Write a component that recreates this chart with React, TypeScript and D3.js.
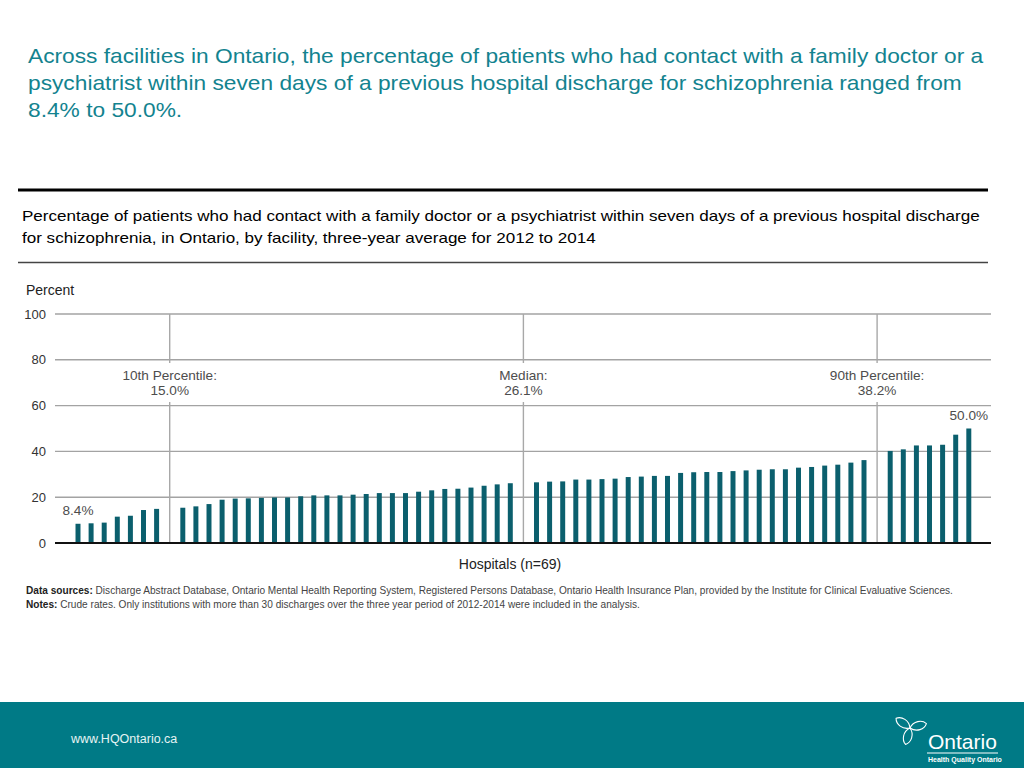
import React from "react";
import * as d3 from "d3";

const titleLines = [
  "Across facilities in Ontario, the percentage of patients who had contact with a family doctor or a",
  "psychiatrist within seven days of a previous hospital discharge for schizophrenia ranged from",
  "8.4% to 50.0%.",
];
const subtitleLines = [
  "Percentage of patients who had contact with a family doctor or a psychiatrist within seven days of a previous hospital discharge",
  "for schizophrenia, in Ontario, by facility, three-year average for 2012 to 2014",
];
const values = [
  8.4, 8.6, 8.9, 11.5, 11.9, 14.4, 14.9,
  15.4, 16.0, 17.0, 18.9, 19.4, 19.5, 19.7, 19.9, 19.9, 20.4, 20.8, 20.8, 20.8, 21.1,
  21.4, 21.8, 21.8, 21.8, 22.4, 23.0, 23.6, 23.7, 24.2, 25.0, 25.6, 26.1,
  26.5, 26.8, 26.9, 27.7, 27.7, 27.9, 28.1, 28.8, 29.0, 29.3, 29.3, 30.6, 30.9, 31.0,
  31.0, 31.4, 31.7, 32.0, 32.2, 32.2, 32.9, 33.2, 33.8, 34.2, 35.1, 36.2,
  40.2, 40.9, 42.6, 42.6, 42.9, 47.3, 50.0,
];
const markerNames = ["10th Percentile:", "Median:", "90th Percentile:"];
const markerValues = [15.0, 26.1, 38.2];
const yTicks = [0, 20, 40, 60, 80, 100];
const xTitle = "Hospitals (n=69)";
const yTitle = "Percent";
const minLabel = "8.4%";
const maxLabel = "50.0%";
const sourceText = "Discharge Abstract Database, Ontario Mental Health Reporting System, Registered Persons Database, Ontario Health Insurance Plan, provided by the Institute for Clinical Evaluative Sciences.";
const notesText = "Crude rates. Only institutions with more than 30 discharges over the three year period of 2012-2014 were included in the analysis.";

type Slot = { kind: "bar"; value: number; idx: number } | { kind: "marker"; value: number; name: string };

function buildSlots(): Slot[] {
  const sorted = values.slice().sort((a, b) => a - b);
  const out: Slot[] = [];
  let m = 0;
  sorted.forEach((v, i) => {
    while (m < markerValues.length && v > markerValues[m]) {
      out.push({ kind: "marker", value: markerValues[m], name: markerNames[m] });
      m++;
    }
    out.push({ kind: "bar", value: v, idx: i });
  });
  while (m < markerValues.length) {
    out.push({ kind: "marker", value: markerValues[m], name: markerNames[m] });
    m++;
  }
  return out;
}

const FONT = "'Liberation Sans', Arial, Helvetica, sans-serif";
const TEAL = "#13838f";
const BAR = "#0b5f6d";
const BAND = "#007a86";

export default function App() {
  const W = 1024;
  const H = 768;
  const slots = buildSlots();
  const step = 13.1;
  const x = d3
    .scaleBand<number>()
    .domain(slots.map((_, i) => i))
    .range([78 - step / 2, 78 - step / 2 + step * slots.length])
    .paddingInner(0.62)
    .paddingOuter(0.31);
  const y = d3.scaleLinear().domain([0, 100]).range([543, 314]);
  const cx = (i: number) => (x(i) ?? 0) + x.bandwidth() / 2;
  const gridX0 = 55;
  const gridX1 = 991;
  const firstBarIdx = slots.findIndex((s) => s.kind === "bar");
  let lastBarIdx = 0;
  slots.forEach((s, i) => {
    if (s.kind === "bar") lastBarIdx = i;
  });
  const petal = "M0,0 C-7,-6 -6,-16 0,-20 C6,-16 7,-6 0,0 Z";

  return (
    <svg
      width={W}
      height={H}
      viewBox={`0 0 ${W} ${H}`}
      style={{ position: "absolute", left: 0, top: 0, background: "#fff" }}
      fontFamily={FONT}
    >
      <g transform="translate(28,0) scale(1.137,1)">
        {titleLines.map((t, i) => (
          <text key={i} x={0} y={63 + i * 27} fontSize={20} fill={TEAL}>
            {t}
          </text>
        ))}
      </g>
      <line x1={18} x2={988} y1={190} y2={190} stroke="#000" strokeWidth={3} />
      <g transform="translate(22,0) scale(1.122,1)">
        {subtitleLines.map((t, i) => (
          <text key={i} x={0} y={221 + i * 22} fontSize={15.2} fill="#000">
            {t}
          </text>
        ))}
      </g>
      <line x1={18} x2={988} y1={262.5} y2={262.5} stroke="#444" strokeWidth={1.5} />

      <text x={26} y={295} fontSize={14} fill="#222">
        {yTitle}
      </text>
      {yTicks.map((t) => (
        <g key={t}>
          {t > 0 && (
            <line x1={gridX0} x2={gridX1} y1={y(t)} y2={y(t)} stroke="#a3a3a3" strokeWidth={1.4} />
          )}
          <text x={46} y={y(t) + 4.5} fontSize={13} fill="#333" textAnchor="end">
            {t}
          </text>
        </g>
      ))}

      {slots.map((s, i) =>
        s.kind === "marker" ? (
          <g key={`m${i}`}>
            <line x1={cx(i)} x2={cx(i)} y1={y(100)} y2={y(100) + 49} stroke="#a8a8a8" strokeWidth={1.4} />
            <line x1={cx(i)} x2={cx(i)} y1={y(100) + 88} y2={y(0)} stroke="#a8a8a8" strokeWidth={1.4} />
            <text x={cx(i)} y={y(100) + 66} fontSize={13.6} fill="#4d4d4d" textAnchor="middle">
              {s.name}
            </text>
            <text x={cx(i)} y={y(100) + 81} fontSize={13.6} fill="#4d4d4d" textAnchor="middle">
              {s.value.toFixed(1) + "%"}
            </text>
          </g>
        ) : (
          <rect
            key={`b${i}`}
            x={x(i)}
            y={y(s.value)}
            width={x.bandwidth()}
            height={y(0) - y(s.value)}
            fill={BAR}
          />
        )
      )}
      <line x1={gridX0} x2={gridX1} y1={y(0)} y2={y(0)} stroke="#111" strokeWidth={2} />
      <text x={cx(firstBarIdx)} y={y(slots[firstBarIdx].value) - 9} fontSize={13.6} fill="#4d4d4d" textAnchor="middle">
        {minLabel}
      </text>
      <text x={cx(lastBarIdx)} y={y(slots[lastBarIdx].value) - 9} fontSize={13.6} fill="#4d4d4d" textAnchor="middle">
        {maxLabel}
      </text>
      <text x={510} y={569} fontSize={14} fill="#222" textAnchor="middle">
        {xTitle}
      </text>

      <text x={26} y={594} fontSize={10.1} fill="#444">
        <tspan fontWeight="bold" fill="#222">Data sources: </tspan>
        {sourceText}
      </text>
      <text x={26} y={607.5} fontSize={10.1} fill="#444">
        <tspan fontWeight="bold" fill="#222">Notes: </tspan>
        {notesText}
      </text>

      <rect x={0} y={702} width={W} height={66} fill={BAND} />
      <text x={71} y={743} fontSize={12.5} fill="#e6f4f4">
        www.HQOntario.ca
      </text>
      <g transform="translate(910,728)" fill="none" stroke="#fff" strokeWidth={1.3} strokeLinejoin="round">
        {[-55, 75, 195].map((r) => (
          <path key={r} d={petal} transform={`rotate(${r}) scale(0.85)`} />
        ))}
      </g>
      <text x={928} y={749} fontSize={21} fill="#fff">
        Ontario
      </text>
      <line x1={927} x2={998} y1={753} y2={753} stroke="#fff" strokeWidth={1} />
      <text x={928} y={762} fontSize={7} fill="#fff" fontWeight="bold">
        Health Quality Ontario
      </text>
    </svg>
  );
}
